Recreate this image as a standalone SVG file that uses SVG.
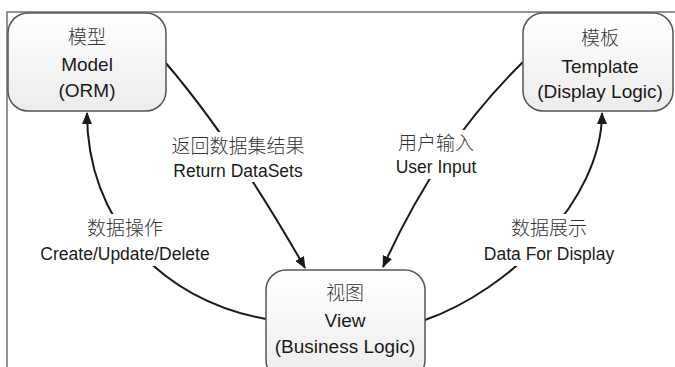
<svg xmlns="http://www.w3.org/2000/svg" width="675" height="367" viewBox="0 0 675 367">
<defs>
<linearGradient id="boxg" x1="0" y1="0" x2="0" y2="1">
<stop offset="0" stop-color="#ffffff"/>
<stop offset="1" stop-color="#ececec"/>
</linearGradient>
<marker id="arr" viewBox="0 0 12 10" refX="11" refY="5" markerWidth="12" markerHeight="10" markerUnits="userSpaceOnUse" orient="auto">
<path d="M0,0 L12,5 L0,10 Z" fill="#1a1a1a"/>
</marker>
</defs>
<style>
.frame{stroke:#707070;stroke-width:1.5;fill:none}
.box{fill:url(#boxg);stroke:#555;stroke-width:1.5}
.conn{fill:none;stroke:#1a1a1a;stroke-width:2;marker-end:url(#arr)}
.bg{fill:#ffffff}
.cn{font-family:"Noto Sans CJK SC",sans-serif;font-size:19px;fill:#333;text-anchor:middle;font-weight:300}
.en{font-family:"Liberation Sans",Arial,sans-serif;font-size:19px;fill:#1a1a1a;text-anchor:middle}
.lb{font-family:"Liberation Sans",Arial,sans-serif;font-size:17.5px;fill:#1a1a1a;text-anchor:middle}
</style>
<rect width="675" height="367" fill="#ffffff"/>
<path class="frame" d="M7,367 L7,12 L675,12"/>

<g id="connectors">
<path class="conn" d="M266,319 C160,300 87,220 87,113"/>
<path class="conn" d="M425,320 C510,290 602,200 602,113"/>
<path class="conn" d="M165,62 Q232,140 305,268"/>
<path class="conn" d="M523,62 Q438,145 383,267"/>
</g>

<g id="label-crud">
<rect class="bg" x="36" y="214" width="180" height="52"/>
<text class="cn" x="125" y="235">数据操作</text>
<text class="lb" x="125" y="260">Create/Update/Delete</text>
</g>
<g id="label-return">
<rect class="bg" x="168" y="132" width="141" height="50"/>
<text class="cn" x="238" y="153">返回数据集结果</text>
<text class="lb" x="238" y="177">Return DataSets</text>
</g>
<g id="label-input">
<rect class="bg" x="393" y="130" width="88" height="49"/>
<text class="cn" x="436" y="150">用户输入</text>
<text class="lb" x="436" y="173">User Input</text>
</g>
<g id="label-display">
<rect class="bg" x="482" y="214" width="134" height="52"/>
<text class="cn" x="549" y="235">数据展示</text>
<text class="lb" x="549" y="260">Data For Display</text>
</g>

<g id="model">
<rect class="box" x="8" y="13" width="158" height="98" rx="20" ry="20"/>
<text class="cn" x="87" y="44">模型</text>
<text class="en" x="87" y="71">Model</text>
<text class="en" x="87" y="97">(ORM)</text>
</g>
<g id="template">
<rect class="box" x="523" y="13" width="150" height="98" rx="20" ry="20"/>
<text class="cn" x="600" y="45">模板</text>
<text class="en" x="600" y="73">Template</text>
<text class="en" x="600" y="98">(Display Logic)</text>
</g>
<g id="view">
<rect class="box" x="266" y="270" width="159" height="110" rx="20" ry="20"/>
<text class="cn" x="345" y="300">视图</text>
<text class="en" x="345" y="327">View</text>
<text class="en" x="345" y="353">(Business Logic)</text>
</g>
</svg>
